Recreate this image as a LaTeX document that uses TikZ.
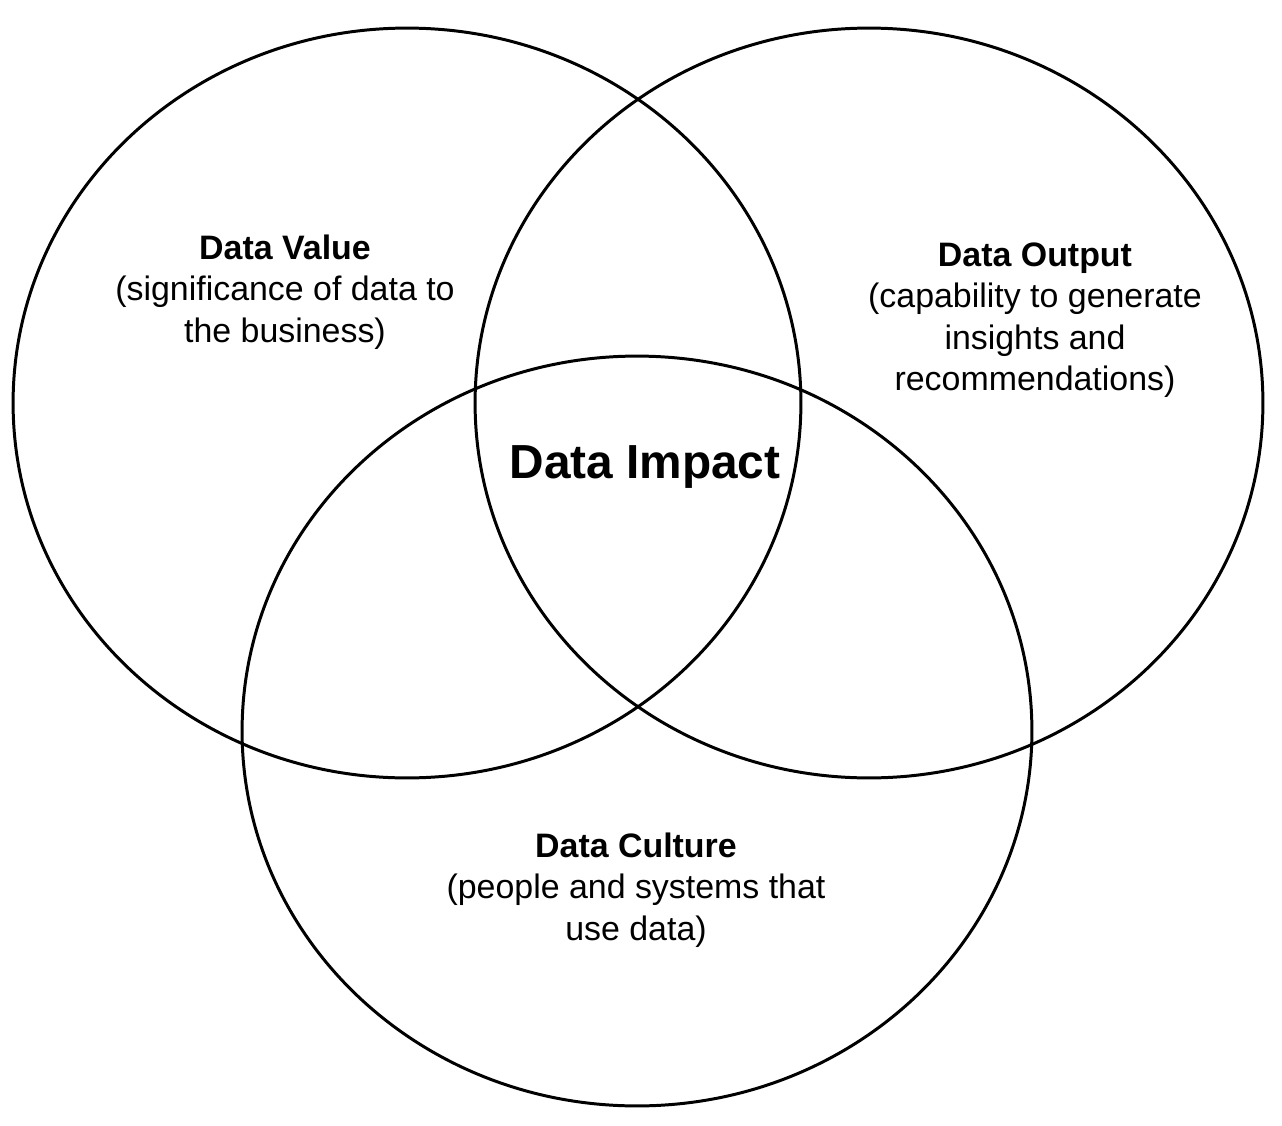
\documentclass[tikz,border=0pt]{standalone}
\usepackage{fontspec}
\setmainfont{Liberation Sans}

\begin{document}
\begin{tikzpicture}[x=0.02cm, y=-0.02cm,
        ring/.style={line width=1.7pt},
        label/.style={align=center, font=\fontsize{19.3}{23.6}\selectfont},
        core/.style={font=\fontsize{27.2}{32}\selectfont\bfseries}]
        \useasboundingbox (0,0) rectangle (1282,1126);
        % the three sets
        \draw[ring] (407,403) ellipse [x radius=7.88cm, y radius=7.5cm];
        \draw[ring] (869,403) ellipse [x radius=7.88cm, y radius=7.5cm];
        \draw[ring] (637,731) ellipse [x radius=7.9cm, y radius=7.5cm];
        % labels
        \node[label] (value) at (285,292) {\textbf{Data Value}\\(significance of data to\\the business)};
        \node[label] (output) at (1035,320) {\textbf{Data Output}\\(capability to generate\\insights and\\recommendations)};
        \node[label] (culture) at (636,890) {\textbf{Data Culture}\\(people and systems that\\use data)};
        \node[core] (impact) at (645,467) {Data Impact};
    \end{tikzpicture}
\end{document}
